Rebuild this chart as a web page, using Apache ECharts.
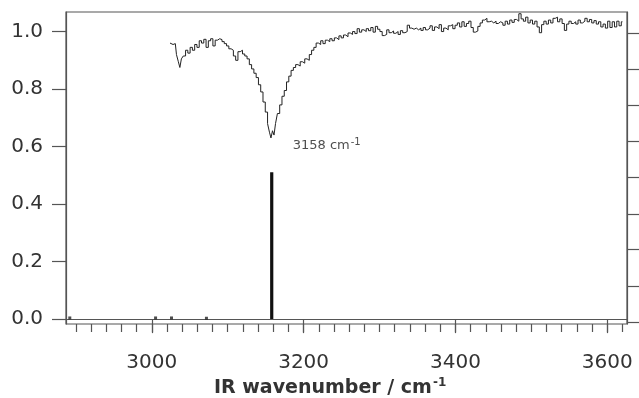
<!DOCTYPE html>
<html>
<head>
<meta charset="utf-8">
<script src="https://cdn.jsdelivr.net/npm/echarts@6/dist/echarts.min.js"></script>
<style>
html,body{margin:0;padding:0;background:#fff;}
#c{width:639px;height:398px;}
</style>
</head>
<body>
<div id="c"></div>
<script>
// Experimental IR spectrum (wavenumber, transmission)
var specX = [3024,3028,3031,3034,3036,3038,3040,3043,3046,3049,3052,3055,3058,3061,3064,3067,3070,3073,3076,3079,3082,3085,3088,3091,3094,3097,3100,3103,3106,3109,3112,3115,3118,3121,3124,3127,3130,3133,3136,3139,3142,3145,3148,3151,3154,3156,3158,3160,3162,3164,3167,3170,3173,3176,3179,3182,3185,3188,3191,3194,3197,3200,3203,3206,3209,3212,3215,3218,3221,
3224,3227,3230,3233,3236,3239,3242,3245,3248,3251,3254,3257,3260,3263,3266,3269,3272,3275,3278,3281,3284,3287,3290,3293,3296,3299,3302,3305,3308,3311,3314,3317,3320,3323,3326,3329,3332,3335,3338,3341,3344,3347,3350,3353,3356,3359,3362,3365,3368,3371,3374,3377,3380,3383,3386,3389,3392,3395,3398,3401,3404,3407,3410,3413,3416,3419,3422,3425,3428,3431,3434,3437,3440,3443,3446,3449,3452,3455,3458,3461,3464,3467,3470,3473,3476,3479,3482,3485,3488,3491,3494,3497,3500,3503,3506,3509,3512,3515,3518,3521,3524,3527,3530,3533,3536,3539,3542,3545,3548,3551,3554,3557,3560,3563,3566,3569,3572,3575,3578,3581,3584,3587,3590,3593,3596,3599,3602,3605,3608,3611,3614,3617,3620];
var specY = [0.960,0.955,0.958,0.920,0.895,0.875,0.905,0.915,0.935,0.925,0.945,0.935,0.955,0.945,0.968,0.960,0.973,0.945,0.968,0.975,0.950,0.970,0.975,0.972,0.965,0.958,0.950,0.940,0.935,0.915,0.900,0.930,0.935,0.922,0.915,0.905,0.885,0.870,0.855,0.840,0.815,0.790,0.755,0.720,0.680,0.650,0.630,0.655,0.640,0.680,0.715,0.745,0.775,0.795,0.825,0.845,0.865,0.875,0.885,0.880,0.895,0.890,0.905,0.900,0.920,0.935,0.945,0.960,0.955,
0.968,0.958,0.970,0.965,0.975,0.968,0.978,0.972,0.985,0.978,0.988,0.982,0.995,0.990,1.000,0.993,1.010,0.998,1.006,1.000,1.010,1.003,1.014,0.998,1.018,1.008,1.000,0.986,0.990,1.006,0.996,1.002,0.994,1.000,0.990,1.003,0.996,1.000,1.022,1.012,1.008,1.012,1.006,1.012,1.004,1.014,1.006,1.012,1.020,1.004,1.016,1.010,1.024,1.000,1.012,1.006,1.020,1.024,1.010,1.022,1.030,1.016,1.034,1.018,1.028,1.036,1.014,0.998,1.002,1.018,1.030,1.040,1.046,1.034,1.036,1.030,1.036,1.028,1.034,1.030,1.022,1.036,1.026,1.040,1.032,1.042,1.036,1.062,1.044,1.036,1.050,1.030,1.040,1.026,1.036,1.016,0.996,1.024,1.036,1.026,1.040,1.030,1.046,1.050,1.034,1.044,1.028,1.004,1.026,1.036,1.028,1.034,1.026,1.040,1.030,1.036,1.046,1.034,1.042,1.030,1.038,1.026,1.034,1.016,1.026,1.012,1.036,1.014,1.034,1.016,1.036,1.020,1.034];

// Calculated stick spectrum
var stickX = [3158];
var stickY = [0.511];
var minorStickX = [2892, 3005, 3026, 3072];
var minorStickY = [0.004, 0.004, 0.004, 0.003];

// Axes
var xMajorTicks = [3000, 3200, 3400, 3600];
var xMinorTicks = [2900,2920,2940,2960,2980,3000,3020,3040,3060,3080,3100,3120,3140,3160,3180,3200,3220,3240,3260,3280,3300,3320,3340,3360,3380,3400,3420,3440,3460,3480,3500,3520,3540,3560,3580,3600,3620];
var yTicks = [0.0, 0.2, 0.4, 0.6, 0.8, 1.0];
var rightTicks = [0.006, 0.122, 0.238, 0.353, 0.469, 0.585, 0.701, 0.817, 0.932];
var annotText = '3158 cm';
var annotY = 0.602;

var specData = specX.map(function (x, i) { return [x, specY[i]]; });
var stickData = [];
stickX.forEach(function (x, i) { stickData.push([x, 0]); stickData.push([x, stickY[i]]); });
var dotData = minorStickX.map(function (x, i) { return [x, minorStickY[i]]; });

var axisColor = '#555';
var chart = echarts.init(document.getElementById('c'));
chart.setOption({
  animation: false,
  backgroundColor: '#fff',
  grid: { left: 66, right: 12, top: 12, bottom: 74, show: true, borderColor: axisColor, borderWidth: 1.2, backgroundColor: 'transparent' },
  xAxis: [
    {
      type: 'value', min: 2887, max: 3626, position: 'bottom',
      axisLine: { show: true, lineStyle: { color: axisColor, width: 1.2 } },
      axisTick: { show: true, inside: false, length: 14, customValues: xMajorTicks, lineStyle: { color: axisColor, width: 1.2 } },
      axisLabel: { show: true, customValues: xMajorTicks, margin: 29, color: '#333', fontSize: 20, fontFamily: 'DejaVu Sans',
        formatter: function (v) { return String(v); } },
      splitLine: { show: false }
    },
    {
      type: 'value', min: 2887, max: 3626, position: 'bottom',
      axisLine: { show: false },
      axisTick: { show: true, inside: false, length: 8, customValues: xMinorTicks, lineStyle: { color: axisColor, width: 1.2 } },
      axisLabel: { show: false },
      splitLine: { show: false }
    }
  ],
  yAxis: [
    {
      type: 'value', min: -0.017, max: 1.068, position: 'left',
      axisLine: { show: true, lineStyle: { color: axisColor, width: 1.2 } },
      axisTick: { show: true, inside: false, length: 14, customValues: yTicks, lineStyle: { color: axisColor, width: 1.2 } },
      axisLabel: { show: true, customValues: yTicks, margin: 23, color: '#333', fontSize: 20, fontFamily: 'DejaVu Sans',
        formatter: function (v) { return v.toFixed(1); } },
      splitLine: { show: false }
    },
    {
      type: 'value', min: 0, max: 1, position: 'right',
      axisLine: { show: true, lineStyle: { color: axisColor, width: 1.2 } },
      axisTick: { show: true, inside: false, length: 13, customValues: rightTicks, lineStyle: { color: axisColor, width: 1.2 } },
      axisLabel: { show: false },
      splitLine: { show: false }
    }
  ],
  graphic: [
    {
      type: 'text', left: 214, top: 377,
      style: {
        text: '{a|IR wavenumber / cm}{s|-1}',
        rich: {
          a: { fontSize: 19, fontWeight: 'bold', fontFamily: 'DejaVu Sans', fill: '#333', color: '#333' },
          s: { fontSize: 12, fontWeight: 'bold', fontFamily: 'DejaVu Sans', fill: '#333', color: '#333', padding: [0, 0, 10, 1] }
        }
      }
    }
  ],
  series: [
    {
      type: 'line', data: specData, step: 'middle', showSymbol: false, symbol: 'none',
      lineStyle: { color: '#222', width: 1 }, xAxisIndex: 0, yAxisIndex: 0, z: 3
    },
    {
      type: 'line', data: stickData, showSymbol: false, symbol: 'none',
      lineStyle: { color: '#111', width: 3.2, cap: 'butt' }, xAxisIndex: 0, yAxisIndex: 0, z: 4
    },
    {
      type: 'scatter', data: dotData, symbol: 'rect', symbolSize: 3,
      itemStyle: { color: '#222' }, xAxisIndex: 0, yAxisIndex: 0
    },
    {
      type: 'scatter', data: [[stickX[0], annotY]], symbolSize: 0, xAxisIndex: 0, yAxisIndex: 0,
      label: {
        show: true, position: 'right', distance: 21,
        formatter: '{a|' + annotText + '}{s|-1}',
        rich: {
          a: { fontSize: 13, fontFamily: 'DejaVu Sans', color: '#222' },
          s: { fontSize: 10, fontFamily: 'DejaVu Sans', color: '#222', padding: [0, 0, 7, 1] }
        }
      }
    }
  ]
});
</script>
</body>
</html>
